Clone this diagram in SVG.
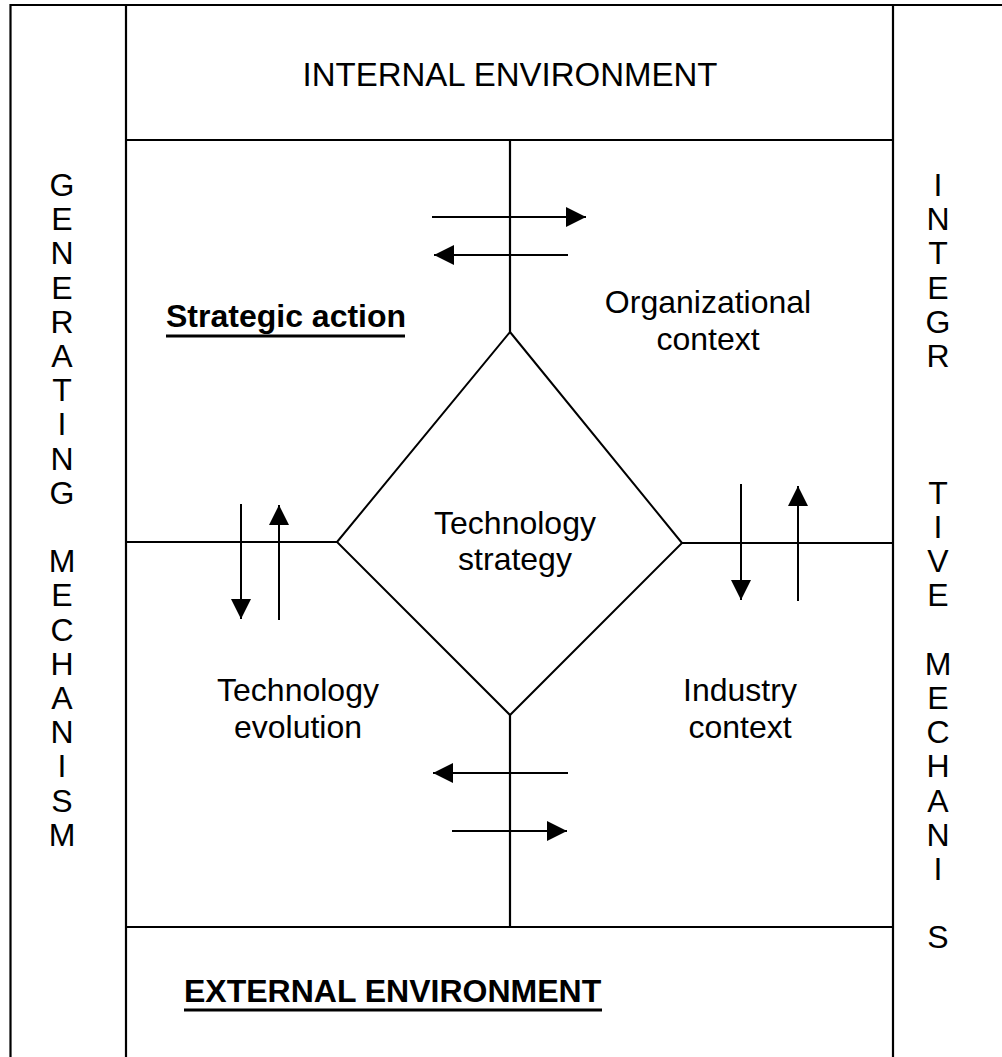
<svg xmlns="http://www.w3.org/2000/svg" width="1002" height="1057" viewBox="0 0 1002 1057">
<style>
.frame{stroke:#000;stroke-width:2.2;fill:none}
.arr{stroke:#000;stroke-width:2;fill:none;marker-end:url(#ah)}
.ul{stroke:#000;stroke-width:3.2}
text{font-family:"Liberation Sans",Arial,sans-serif;font-size:32px;fill:#000}
.b{font-weight:bold}
.c{text-anchor:middle}
</style>
<defs>
<marker id="ah" markerUnits="userSpaceOnUse" markerWidth="22" markerHeight="22" refX="20" refY="10" orient="auto">
<path d="M0,0 L20,10 L0,20 Z" fill="#000"/>
</marker>
</defs>
<rect width="1002" height="1057" fill="#fff"/>
<g id="frame">
<path class="frame" d="M10.5,1057 V5 H1002 M126,5 V1057 M893,5 V1057 M126,140 H893 M126,927 H893"/>
</g>
<g id="internal-environment"><text class="c" x="510" y="86" style="font-size:33px">INTERNAL ENVIRONMENT</text></g>
<g id="external-environment"><text class="b" x="184" y="1002">EXTERNAL ENVIRONMENT</text><line class="ul" x1="184" y1="1010" x2="602" y2="1010"/></g>
<g id="generating-mechanism">
<text class="c" x="62" y="196">G</text><text class="c" x="62" y="230.2">E</text><text class="c" x="62" y="264.4">N</text><text class="c" x="62" y="298.6">E</text><text class="c" x="62" y="332.8">R</text><text class="c" x="62" y="367">A</text><text class="c" x="62" y="401.2">T</text><text class="c" x="62" y="435.4">I</text><text class="c" x="62" y="469.6">N</text><text class="c" x="62" y="503.8">G</text>
<text class="c" x="62" y="572.2">M</text><text class="c" x="62" y="606.4">E</text><text class="c" x="62" y="640.6">C</text><text class="c" x="62" y="674.8">H</text><text class="c" x="62" y="709">A</text><text class="c" x="62" y="743.2">N</text><text class="c" x="62" y="777.4">I</text><text class="c" x="62" y="811.6">S</text><text class="c" x="62" y="845.8">M</text>
</g>
<g id="integrative-mechanism">
<text class="c" x="938" y="196">I</text><text class="c" x="938" y="230.2">N</text><text class="c" x="938" y="264.4">T</text><text class="c" x="938" y="298.6">E</text><text class="c" x="938" y="332.8">G</text><text class="c" x="938" y="367">R</text>
<text class="c" x="938" y="503.8">T</text><text class="c" x="938" y="538">I</text><text class="c" x="938" y="572.2">V</text><text class="c" x="938" y="606.4">E</text>
<text class="c" x="938" y="674.8">M</text><text class="c" x="938" y="709">E</text><text class="c" x="938" y="743.2">C</text><text class="c" x="938" y="777.4">H</text><text class="c" x="938" y="811.6">A</text><text class="c" x="938" y="845.8">N</text><text class="c" x="938" y="880">I</text><text class="c" x="938" y="948.4">S</text>
</g>
<g id="strategic-action"><text class="b" x="166" y="327">Strategic action</text><line class="ul" x1="166" y1="336" x2="405" y2="336"/></g>
<g id="organizational-context"><text class="c" x="708" y="313">Organizational</text><text class="c" x="708" y="350">context</text></g>
<g id="technology-strategy">
<polygon points="510,332 682,543 510,715 337,542" fill="none" stroke="#000" stroke-width="2"/>
<text class="c" x="515" y="534">Technology</text><text class="c" x="515" y="570">strategy</text>
</g>
<g id="technology-evolution"><text class="c" x="298" y="701">Technology</text><text class="c" x="298" y="738">evolution</text></g>
<g id="industry-context"><text class="c" x="740" y="701">Industry</text><text class="c" x="740" y="738">context</text></g>
<g id="connectors">
<path class="frame" d="M510,140 V332 M510,715 V927 M126,542 H337 M682,543 H893"/>
<line class="arr" x1="432" y1="217" x2="586" y2="217"/>
<line class="arr" x1="568" y1="255" x2="434" y2="255"/>
<line class="arr" x1="241" y1="504" x2="241" y2="619"/>
<line class="arr" x1="279" y1="620" x2="279" y2="505"/>
<line class="arr" x1="741" y1="484" x2="741" y2="600"/>
<line class="arr" x1="798" y1="601" x2="798" y2="486"/>
<line class="arr" x1="568" y1="773" x2="433" y2="773"/>
<line class="arr" x1="452" y1="831" x2="567" y2="831"/>
</g>
</svg>
